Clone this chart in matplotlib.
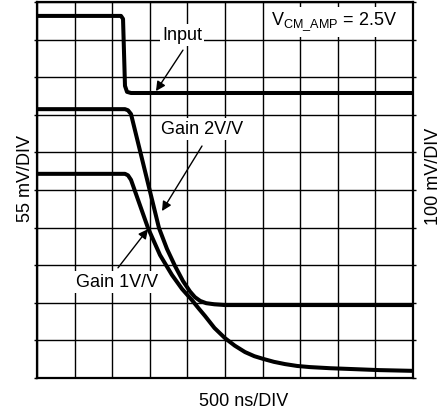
import matplotlib
matplotlib.use("Agg")
import matplotlib.pyplot as plt

plt.rcParams.update({"font.family": "Liberation Sans", "font.size": 13,
                     "mathtext.fontset": "custom", "mathtext.rm": "Liberation Sans",
                     "mathtext.it": "Liberation Sans"})

# time axis in ns (500 ns/DIV), vertical axis in screen divisions
t_input = [0, 1117, 1144, 1170, 1197, 1250, 5000]
v_input = [9.63, 9.63, 9.55, 7.77, 7.61, 7.58, 7.58]

t_gain2 = [0, 1170, 1210, 1250, 1622, 1729, 1835, 1941, 2035, 2100, 2170, 2250,
           2360, 2500, 5000]
v_gain2 = [7.15, 7.15, 7.12, 7.02, 3.99, 3.43, 2.98, 2.58, 2.30, 2.15, 2.05, 1.99,
           1.96, 1.94, 1.94]

t_gain1 = [0, 1170, 1210, 1250, 1476, 1636, 1795, 1928, 2061, 2150, 2234, 2360,
           2500, 2630, 2766, 2890, 3005, 3150, 3298, 3460, 3630, 3900, 4162, 4550, 5000]
v_gain1 = [5.43, 5.43, 5.39, 5.27, 3.99, 3.27, 2.74, 2.37, 2.07, 1.85, 1.65, 1.33,
           1.06, 0.86, 0.69, 0.58, 0.51, 0.43, 0.37, 0.32, 0.29, 0.26, 0.24, 0.21, 0.19]

x_grid = [i * 500 for i in range(11)]
y_grid = list(range(11))

fig = plt.figure(figsize=(4.42, 4.17), dpi=100)
ax = fig.add_axes([37 / 442, 39 / 417, 376 / 442, 376 / 417])
ax.set_xlim(0, 5000)
ax.set_ylim(0, 10)
ax.set_xticks(x_grid)
ax.set_yticks(y_grid)
ax.set_xticklabels([])
ax.set_yticklabels([])
ax.tick_params(axis="x", length=0)
ax.tick_params(axis="y", direction="out", length=2, width=1, left=True, right=True)
ax.grid(True, color="black", lw=1.0)
for s in ax.spines.values():
    s.set_linewidth(1.6)

lw = 2.9
for t, v in [(t_input, v_input), (t_gain2, v_gain2), (t_gain1, v_gain1)]:
    ax.plot(t, v, color="black", lw=lw, solid_joinstyle="round",
            solid_capstyle="butt", zorder=3)

box = dict(facecolor="white", edgecolor="none", pad=1.5)
arrow = dict(arrowstyle="-|>", color="black", lw=1.0, mutation_scale=14,
             shrinkA=0, shrinkB=0)

ax.annotate("", xy=(1582, 7.63), xytext=(1941, 8.72), arrowprops=arrow, zorder=4)
ax.text(1928, 9.12, "Input", ha="center", va="center", bbox=box, zorder=5)

ax.annotate("", xy=(1662, 4.44), xytext=(2194, 6.17), arrowprops=arrow, zorder=4)
ax.text(2201, 6.62, "Gain 2V/V", ha="center", va="center", bbox=box, zorder=5)

ax.annotate("", xy=(1476, 3.96), xytext=(1077, 2.93), arrowprops=arrow, zorder=4)
ax.text(1070, 2.55, "Gain 1V/V", ha="center", va="center", bbox=box, zorder=5)

ax.text(3950, 9.47, r"V$_{\mathrm{CM\_AMP}}$ = 2.5V", ha="center", va="center",
        bbox=dict(facecolor="white", edgecolor="none", pad=3), zorder=5)

fig.text(244 / 442, 1 - 401 / 417, "500 ns/DIV", ha="center", va="center")
fig.text(25 / 442, 1 - 179 / 417, "55 mV/DIV", ha="center", va="center", rotation=90)
fig.text(434 / 442, 1 - 176 / 417, "100 mV/DIV", ha="center", va="center", rotation=90)

fig.savefig("out.png", dpi=100)
